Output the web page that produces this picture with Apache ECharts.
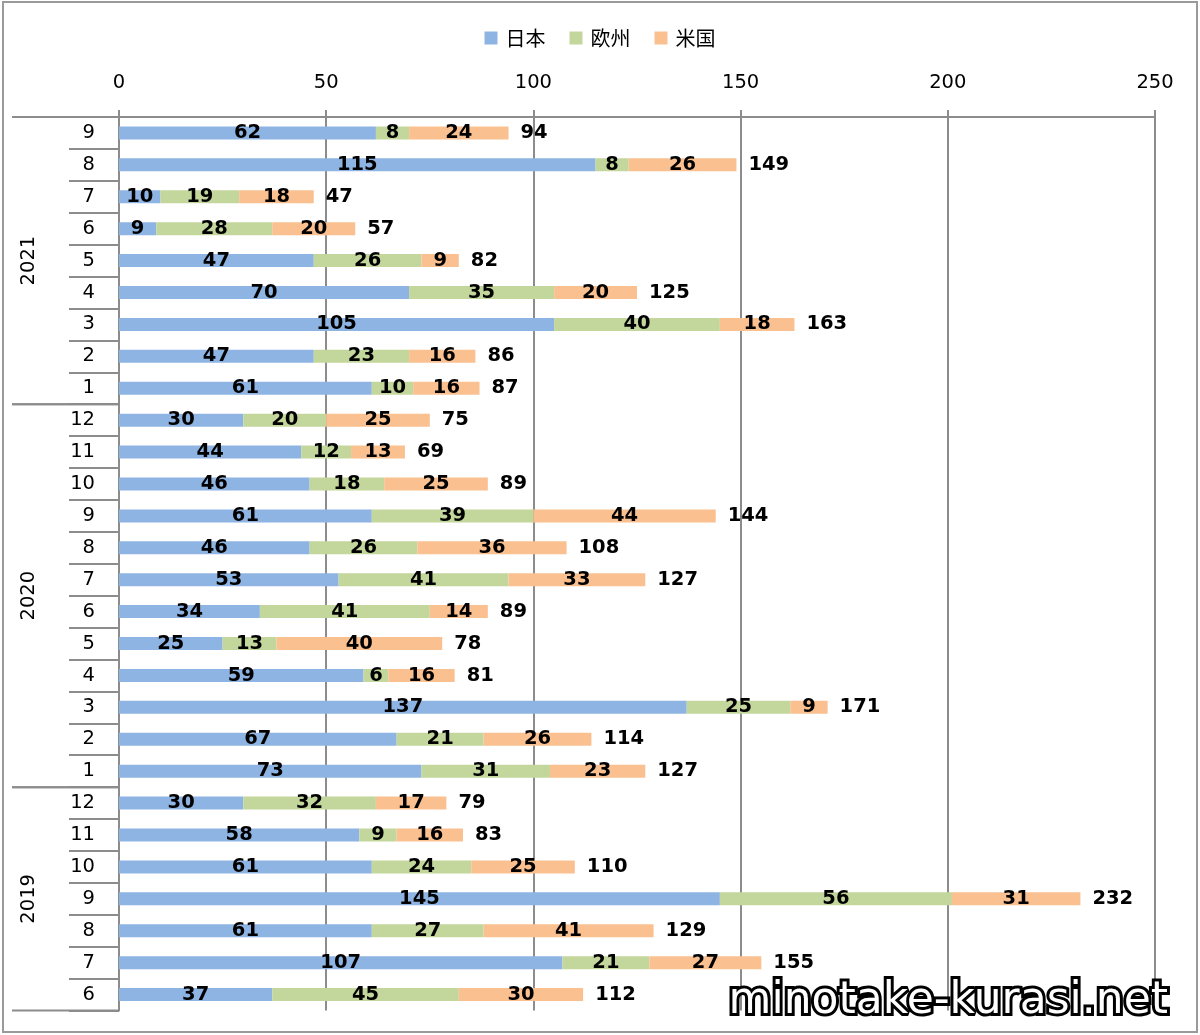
<!DOCTYPE html>
<html><head><meta charset="utf-8">
<script src="https://cdn.jsdelivr.net/npm/echarts@6/dist/echarts.min.js"></script>
<style>html,body{margin:0;padding:0;background:#fff}#c{width:1200px;height:1035px}</style>
</head><body><div id="c"></div>
<script>
// categories bottom -> top
const years = ['2019','2019','2019','2019','2019','2019','2019',
  '2020','2020','2020','2020','2020','2020','2020','2020','2020','2020','2020','2020',
  '2021','2021','2021','2021','2021','2021','2021','2021','2021'];
const months = ['6','7','8','9','10','11','12',
  '1','2','3','4','5','6','7','8','9','10','11','12',
  '1','2','3','4','5','6','7','8','9'];
const japan  = [37,107,61,145,61,58,30, 73,67,137,59,25,34,53,46,61,46,44,30, 61,47,105,70,47,9,10,115,62];
const europe = [45,21,27,56,24,9,32, 31,21,25,6,13,41,41,26,39,18,12,20, 10,23,40,35,26,28,19,8,8];
const usa    = [30,27,41,31,25,16,17, 23,26,9,16,40,14,33,36,44,25,13,25, 16,16,18,20,9,20,18,26,24];
const seriesNames = ['日本','欧州','米国'];
const xTicks = [0,50,100,150,200,250];

const totals = japan.map((v,i)=>v+europe[i]+usa[i]);
const cats = years.map((y,i)=>y+'-'+months[i]);

const FONT = 'DejaVu Sans';
const chart = echarts.init(document.getElementById('c'));
const segLabel = {show:true, position:'inside', color:'#000', fontWeight:'bold', fontSize:19.5, fontFamily:FONT};
const colors = ['#8EB4E3','#C3D69B','#FAC090'];
const mk = (name, data, color) => ({name, type:'bar', stack:'s', data, barWidth:13,
  itemStyle:{color}, label:segLabel, emphasis:{disabled:true}});

chart.setOption({
  animation:false,
  textStyle:{fontFamily:FONT},
  legend:{data:seriesNames, top:23, left:'center', itemWidth:13, itemHeight:13, itemGap:24,
    icon:'rect', textStyle:{fontSize:20, color:'#000', fontFamily:'Noto Sans CJK JP', padding:[0,0,0,3]}},
  grid:{left:119, right:45, top:117, bottom:24.5, containLabel:false},
  xAxis:{type:'value', position:'top', min:xTicks[0], max:xTicks[xTicks.length-1], interval:50,
    axisLine:{show:true, lineStyle:{color:'#8C8C8C', width:2}},
    axisTick:{show:true, length:7, lineStyle:{color:'#8C8C8C', width:2}},
    splitLine:{show:true, lineStyle:{color:'#8C8C8C', width:2}},
    axisLabel:{fontSize:19.5, color:'#000', margin:24, fontFamily:FONT}},
  yAxis:{type:'category', data:cats,
    axisLine:{show:true, lineStyle:{color:'#8C8C8C', width:2}},
    axisTick:{show:true, length:50, lineStyle:{color:'#8C8C8C', width:2}},
    axisLabel:{fontSize:19.5, color:'#000', margin:24, fontFamily:FONT,
      formatter:(v)=>v.split('-')[1]}},
  series:[
    mk(seriesNames[0], japan, colors[0]),
    mk(seriesNames[1], europe, colors[1]),
    mk(seriesNames[2], usa, colors[2]),
    {name:'合計', type:'bar', stack:'s', data:totals.map(()=>0), barWidth:13,
      itemStyle:{color:'transparent'},
      label:{show:true, position:'right', distance:12, color:'#000', fontWeight:'bold', fontSize:19.5, fontFamily:FONT,
        formatter:(p)=>totals[p.dataIndex]}}
  ]
});

// year separators and labels
const g = [];
const rowEdge = (i)=> {
  if (i===0) { const a = chart.convertToPixel({yAxisIndex:0}, cats[0]); const c = chart.convertToPixel({yAxisIndex:0}, cats[1]); return a + (a-c)/2; }
  if (i>=cats.length) { const c = chart.convertToPixel({yAxisIndex:0}, cats[cats.length-2]); const d = chart.convertToPixel({yAxisIndex:0}, cats[cats.length-1]); return d - (c-d)/2; }
  const a = chart.convertToPixel({yAxisIndex:0}, cats[i]);
  const b = chart.convertToPixel({yAxisIndex:0}, cats[i-1]);
  return (a+b)/2;
};
const x0 = chart.convertToPixel({xAxisIndex:0}, 0);
let start = 0;
for (let i=1;i<=years.length;i++){
  if (i===years.length || years[i]!==years[start]) {
    const yA = rowEdge(start), yB = rowEdge(i);
    g.push({type:'line', shape:{x1:12, y1:yA, x2:x0, y2:yA}, style:{stroke:'#8C8C8C', lineWidth:2}});
    g.push({type:'line', shape:{x1:12, y1:yB, x2:x0, y2:yB}, style:{stroke:'#8C8C8C', lineWidth:2}});
    g.push({type:'text', x:29, y:(yA+yB)/2, rotation:Math.PI/2,
      style:{text:years[start], fontSize:19.5, fontFamily:FONT, fill:'#000', align:'center', verticalAlign:'middle'}});
    start = i;
  }
}
g.push({type:'rect', shape:{x:3, y:2, width:1194, height:1030}, style:{fill:'none', stroke:'#9A9A9A', lineWidth:2}, silent:true});
g.push({type:'text', x:1168, y:1002, z:100,
  style:{text:'minotake-kurasi.net', fontSize:44, fontWeight:'normal', fontFamily:'DejaVu Sans',
    fill:'#fff', stroke:'#000', lineWidth:6, strokeFirst:true, align:'right', verticalAlign:'middle'}});
chart.setOption({graphic:g});
</script>
</body></html>
